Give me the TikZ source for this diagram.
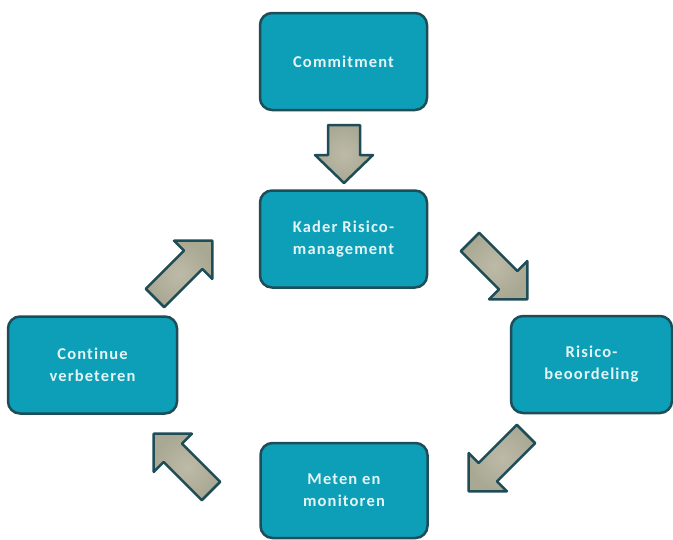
\documentclass[tikz,border=0pt]{standalone}
\usepackage{fontspec}
\setmainfont{Carlito}
\newfontfamily\boxfont[LetterSpace=7.0,Ligatures={NoCommon}]{Carlito}
\definecolor{boxfill}{HTML}{0C9FB7}
\definecolor{boxline}{HTML}{1E4C57}
\definecolor{boxtext}{HTML}{E4F4F6}
\definecolor{arrowfill}{HTML}{A9A893}
\definecolor{arrowlight}{HTML}{BDBBA8}
\tikzset{
  box/.style={draw=boxline, line width=2.5pt, fill=boxfill, rounded corners=12pt,
    minimum width=167pt, minimum height=97pt, text=boxtext, align=center, inner sep=0pt,
    font=\boxfont\bfseries\fontsize{16.5}{22}\selectfont},
  arrowstyle/.style={draw=boxline, line width=2.5pt, line join=round,
    inner color=arrowlight, outer color=arrowfill},
  pics/blockarrow/.style n args={4}{code={
    \path[arrowstyle] (0,-#2) -- ({#1-#4},-#2) -- ({#1-#4},-#3) -- (#1,0)
      -- ({#1-#4},#3) -- ({#1-#4},#2) -- (0,#2) -- cycle;}}
}
\begin{document}
\begin{tikzpicture}[x=1pt,y=-1pt]
\useasboundingbox (0,0) rectangle (673,539);
\node[box] (commit) at (343.5,61.5) {Commitment};
\node[box] (kader) at (343.5,239) {Kader Risico-\\management};
\node[box, minimum width=161pt] (risico) at (591.5,364.5) {Risico-\\beoordeling};
\node[box, minimum width=169pt] (cont) at (92.5,365) {Continue\\verbeteren};
\node[box, minimum height=95pt] (meten) at (344,490.5) {Meten en\\monitoren};
\pic[rotate=-90] (a1) at (344,125) {blockarrow={58}{16}{29}{28}};
\pic[rotate=-45] (a2) at (470,242) {blockarrow={81}{13}{27}{27}};
\pic[rotate=-135] (a3) at (526,434) {blockarrow={81}{13}{27}{27}};
\pic[rotate=135] (a4) at (211,491) {blockarrow={81}{13}{27}{27}};
\pic[rotate=45] (a5) at (155,298) {blockarrow={81}{13}{27}{27}};
\end{tikzpicture}
\end{document}
